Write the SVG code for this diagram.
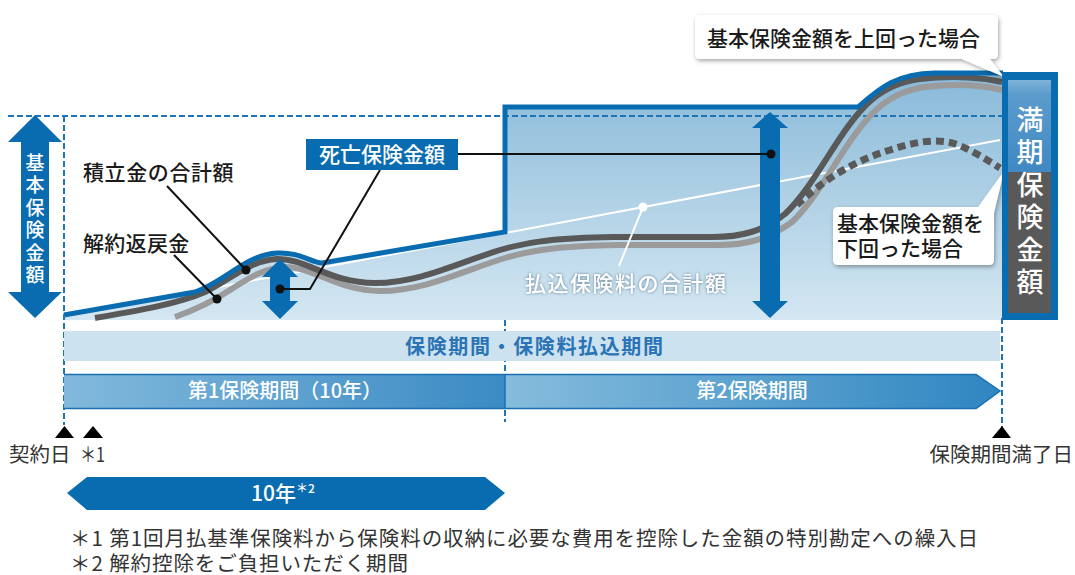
<svg xmlns="http://www.w3.org/2000/svg" width="1075" height="575" viewBox="0 0 1075 575">
<defs>
<style>
text{font-family:"Noto Sans CJK JP","Noto Sans",sans-serif}
.lbl{font-size:21px;font-weight:500;fill:#1a1a1a}
.wt{fill:#fff}
.vert{writing-mode:vertical-rl;text-orientation:upright}
.note{font-size:20.5px;fill:#333;font-weight:400}
.blue{fill:#0a6cb0}
.dash{stroke:#1f74b8;stroke-width:2;stroke-dasharray:6 3;fill:none}
.lead{stroke:#111;stroke-width:2;fill:none}
</style>
<linearGradient id="chartFill" gradientUnits="userSpaceOnUse" x1="0" y1="73" x2="0" y2="320">
<stop offset="0" stop-color="#88b9d9"/><stop offset="0.45" stop-color="#abcee4"/><stop offset="1" stop-color="#d4e7f2"/>
</linearGradient>
<linearGradient id="band1" gradientUnits="userSpaceOnUse" x1="64" y1="0" x2="505" y2="0">
<stop offset="0" stop-color="#82b9dc"/><stop offset="1" stop-color="#3b8bc4"/>
</linearGradient>
<linearGradient id="band2" gradientUnits="userSpaceOnUse" x1="505" y1="0" x2="1000" y2="0">
<stop offset="0" stop-color="#86bcdd"/><stop offset="1" stop-color="#2f86c1"/>
</linearGradient>
<linearGradient id="boxTop" x1="0" y1="0" x2="0" y2="1">
<stop offset="0" stop-color="#7fb3da"/><stop offset="0.15" stop-color="#5c9ccd"/><stop offset="1" stop-color="#3f88c3"/>
</linearGradient>
<filter id="shadow" x="-10%" y="-20%" width="120%" height="150%">
<feDropShadow dx="1" dy="2" stdDeviation="2" flood-color="#000" flood-opacity="0.35"/>
</filter>
<filter id="glow" x="-10%" y="-30%" width="120%" height="160%">
<feDropShadow dx="0" dy="0" stdDeviation="1.6" flood-color="#4a6b85" flood-opacity="0.9"/>
</filter>
</defs>

<rect width="1075" height="575" fill="#fff"/>

<g id="chart-area">
<path d="M64,315 L195,292 C225,282 245,255 277,253 C300,252 310,262 322,263 L505,232 L505,107 L858,107 C880,88 895,74 935,73 L1003,73 L1003,320 L64,320 Z" fill="url(#chartFill)"/>
</g>

<g id="guides">
<line class="dash" x1="8" y1="116" x2="1002" y2="116"/>
<line class="dash" x1="64" y1="116" x2="64" y2="425"/>
<line class="dash" x1="505" y1="320" x2="505" y2="422"/>
<line class="dash" x1="1002" y1="318" x2="1002" y2="427"/>
</g>

<g id="premium-line">
<line x1="64" y1="316" x2="1000" y2="140" stroke="#fff" stroke-width="2"/>
</g>

<g id="curves">
<path id="surrender-curve" d="M175,317 C200,308 215,300 230,290 C250,277 265,268 285,267 C312,266 338,291 380,291 C425,291 465,270 505,258 C535,249 565,246 618,245 L718,245 C745,245 767,240 792,222 C812,203 827,176 847,146 C867,116 887,92 925,87 C958,83 985,86 1002,90" fill="none" stroke="#9b9b9b" stroke-width="6"/>
<path id="reserve-curve" d="M95,318 C130,312 175,305 205,292 C230,280 250,260 277,259 C305,258 330,283 375,283 C420,283 460,262 500,250 C530,241 560,238 613,237 L713,237 C740,237 762,232 785,214 C805,195 820,168 840,138 C860,108 880,84 920,79 C955,75 985,78 1002,82" fill="none" stroke="#595959" stroke-width="6"/>
<path id="below-curve" d="M797,205 C820,183 850,162 890,150 C920,140 945,137 965,148 C980,155 992,163 1000,168" fill="none" stroke="#5a5a5a" stroke-width="7" stroke-dasharray="8 5"/>
<path id="death-outline" d="M64,315 L195,292 C225,282 245,255 277,253 C300,252 310,262 322,263 L505,232 L505,107 L858,107 C880,88 895,74 935,73 L1003,73" fill="none" stroke="#0a6cb0" stroke-width="5"/>
</g>

<g id="arrow-basic">
<path class="blue" d="M35,115 L62,142 L49,142 L49,292 L62,292 L35,318 L8,292 L21,292 L21,142 L8,142 Z"/>
<text class="wt vert" x="35" y="153" font-size="19" font-weight="500" letter-spacing="3.5">基本保険金額</text>
</g>

<g id="arrow-small">
<path class="blue" d="M280,259 L298,277 L290,277 L290,301 L298,301 L280,319 L262,301 L270,301 L270,277 L262,277 Z"/>
</g>

<g id="arrow-big">
<path class="blue" d="M770,112 L788,128 L780,128 L780,301 L788,301 L770,318 L752,301 L760,301 L760,128 L752,128 Z"/>
</g>

<g id="connectors">
<polyline class="lead" points="167,186 246,270"/>
<circle cx="246" cy="270" r="4.5" fill="#111"/>
<polyline class="lead" points="174,255 217,299"/>
<circle cx="217" cy="299" r="4.5" fill="#111"/>
<polyline class="lead" points="280,289 310,289 380,170"/>
<circle cx="280" cy="289" r="4.5" fill="#111"/>
<line class="lead" x1="458" y1="154" x2="771" y2="154"/>
<circle cx="771" cy="154" r="4.5" fill="#111"/>
<line x1="619" y1="266" x2="643" y2="207" stroke="#fff" stroke-width="2"/>
<circle cx="643" cy="207" r="4.5" fill="#fff"/>
</g>

<g id="label-reserve">
<text class="lbl" x="83" y="180" font-size="22" letter-spacing="0.6">積立金の合計額</text>
</g>
<g id="label-surrender">
<text class="lbl" x="83" y="251" font-size="22" letter-spacing="0.3">解約返戻金</text>
</g>
<g id="label-premium">
<text class="wt" x="525" y="291" font-size="21" font-weight="500" letter-spacing="1.5" filter="url(#glow)">払込保険料の合計額</text>
</g>
<g id="label-death">
<rect x="306" y="139" width="152" height="31" fill="#0a6cb0"/>
<text class="wt" x="382" y="162" font-size="21" font-weight="500" text-anchor="middle">死亡保険金額</text>
</g>

<g id="callout-above">
<path d="M700,15 H993 Q998,15 998,20 V54 Q998,59 993,59 H990 L1004,77 L962,59 H700 Q695,59 695,54 V20 Q695,15 700,15 Z" fill="#fff" filter="url(#shadow)"/>
<text class="lbl" x="707" y="46" font-size="21">基本保険金額を上回った場合</text>
</g>
<g id="callout-below">
<path d="M838,207 H978 L1004,171 L994,213 V260 Q994,265 989,265 H838 Q833,265 833,260 V212 Q833,207 838,207 Z" fill="#fff" filter="url(#shadow)"/>
<text class="lbl" font-size="21"><tspan x="837" y="231">基本保険金額を</tspan><tspan x="837" y="256">下回った場合</tspan></text>
</g>

<g id="maturity-box">
<rect x="1002" y="72" width="56" height="248" fill="#0a6cb0"/>
<rect x="1008" y="80" width="43" height="92" fill="url(#boxTop)"/>
<rect x="1008" y="172" width="43" height="141" fill="#595959"/>
<text class="wt vert" x="1030" y="106" font-size="27" font-weight="500" letter-spacing="5.5">満期保険金額</text>
</g>

<g id="band-period">
<rect x="64" y="331" width="936" height="30" fill="#cde2ef"/>
<text x="405" y="354" font-size="20" font-weight="700" fill="#2a74b5" textLength="258" lengthAdjust="spacing">保険期間・保険料払込期間</text>
</g>

<g id="band-first">
<rect x="64" y="374" width="441" height="35" fill="url(#band1)"/>
<line x1="64" y1="374.5" x2="505" y2="374.5" stroke="#1a6fb0" stroke-width="1.5"/>
<line x1="64" y1="408.5" x2="505" y2="408.5" stroke="#1a6fb0" stroke-width="1.5"/>
<text class="wt" x="285" y="398" font-size="20" font-weight="500" text-anchor="middle">第1保険期間（10年）</text>
</g>

<g id="band-second">
<path d="M505,374 L976,374 L1000,391 L976,409 L505,409 Z" fill="url(#band2)"/>
<path d="M505,374.5 L976,374.5 L1000,391 L976,408.5 L505,408.5" fill="none" stroke="#1a6fb0" stroke-width="1.5"/>
<line x1="505" y1="374" x2="505" y2="409" stroke="#1a6fb0" stroke-width="1.5"/>
<text class="wt" x="752" y="398" font-size="20" font-weight="500" text-anchor="middle">第2保険期間</text>
</g>

<g id="markers">
<path d="M55,438 L64.5,426 L74,438 Z" fill="#000"/>
<path d="M83,438 L93,426 L103,438 Z" fill="#000"/>
<path d="M992,438 L1002,426 L1011,438 Z" fill="#000"/>
<text class="note" x="9" y="462">契約日</text>
<text class="note" x="80" y="462" textLength="25" lengthAdjust="spacingAndGlyphs">＊1</text>
<text class="note" x="1073" y="462" text-anchor="end">保険期間満了日</text>
</g>

<g id="band-10years">
<path class="blue" d="M67,493 L87,477 L485,477 L505,493 L485,510 L87,510 Z"/>
<text class="wt" x="251" y="501" font-size="21" font-weight="500">10年<tspan font-size="12" dy="-8">＊2</tspan></text>
</g>

<g id="footnotes">
<text class="note" font-size="20"><tspan x="70" y="546" textLength="908" lengthAdjust="spacing">＊1 第1回月払基準保険料から保険料の収納に必要な費用を控除した金額の特別勘定への繰入日</tspan><tspan x="70" y="571" textLength="338" lengthAdjust="spacing">＊2 解約控除をご負担いただく期間</tspan></text>
</g>
</svg>
